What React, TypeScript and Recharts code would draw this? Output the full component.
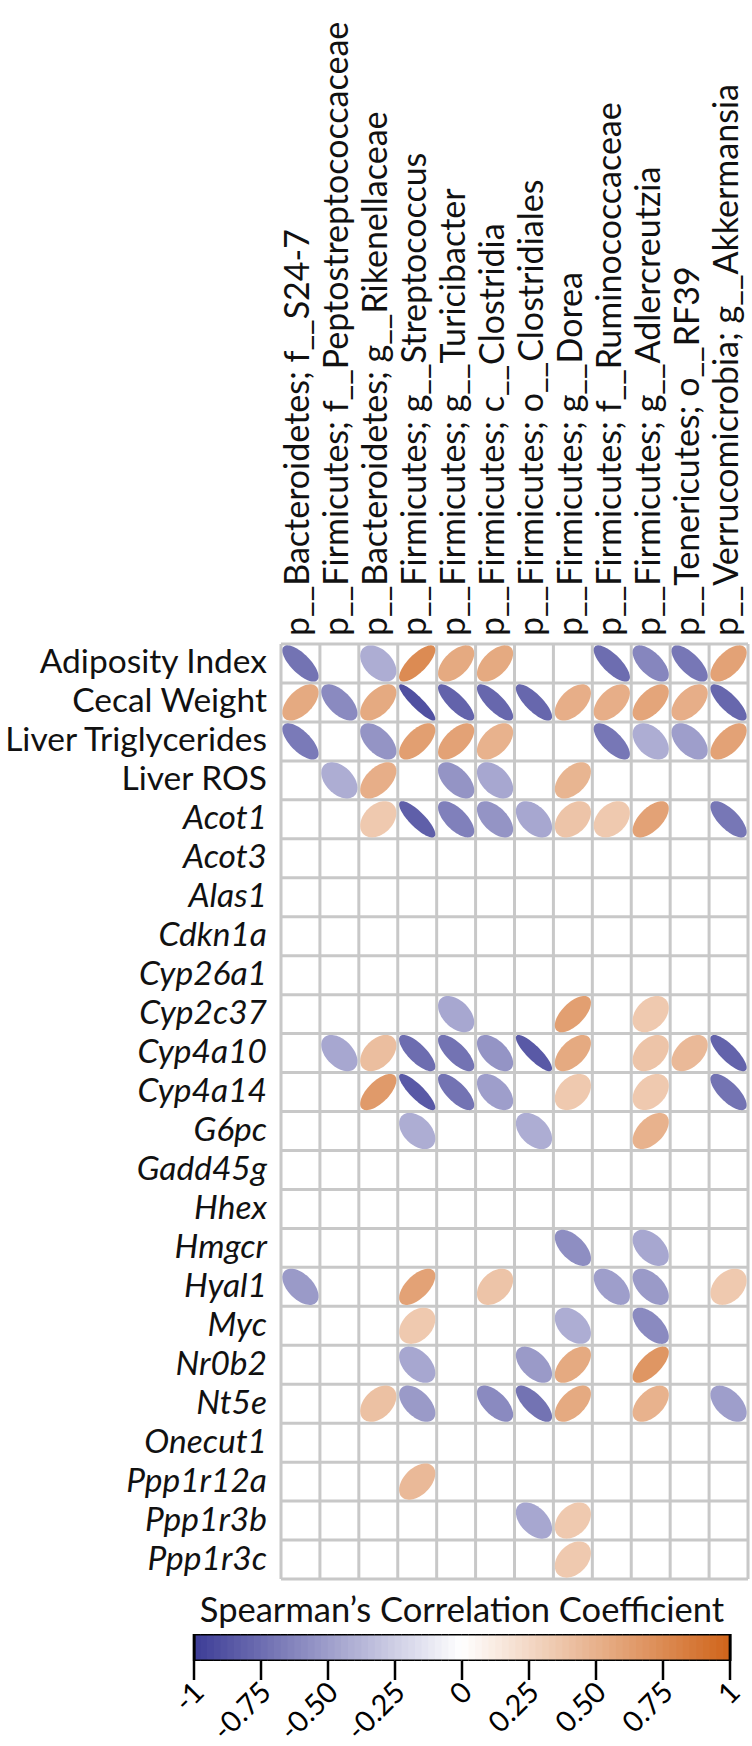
import React from 'react';
import { ScatterChart, Scatter, XAxis, YAxis, CartesianGrid, BarChart, Bar } from 'recharts';

const FONT = 'Lato, "Noto Sans", sans-serif';
const _ = null;

// column labels (taxa)
const taxa = [
  'p__Bacteroidetes; f__S24-7',
  'p__Firmicutes; f__Peptostreptococcaceae',
  'p__Bacteroidetes; g__Rikenellaceae',
  'p__Firmicutes; g__Streptococcus',
  'p__Firmicutes; g__Turicibacter',
  'p__Firmicutes; c__Clostridia',
  'p__Firmicutes; o__Clostridiales',
  'p__Firmicutes; g__Dorea',
  'p__Firmicutes; f__Ruminococcaceae',
  'p__Firmicutes; g__Adlercreutzia',
  'p__Tenericutes; o__RF39',
  'p__Verrucomicrobia; g__Akkermansia',
];

// row labels: phenotypes upright, genes in italics
const phenotypes = ['Adiposity Index', 'Cecal Weight', 'Liver Triglycerides', 'Liver ROS'];
const genes = [
  'Acot1', 'Acot3', 'Alas1', 'Cdkn1a', 'Cyp26a1', 'Cyp2c37', 'Cyp4a10', 'Cyp4a14',
  'G6pc', 'Gadd45g', 'Hhex', 'Hmgcr', 'Hyal1', 'Myc', 'Nr0b2', 'Nt5e',
  'Onecut1', 'Ppp1r12a', 'Ppp1r3b', 'Ppp1r3c',
];
const rowLabels = [...phenotypes, ...genes];

// Spearman rho per row, one value per taxon (null = not shown)
const adiposityIndex = [-0.72, _, -0.42, 0.75, 0.55, 0.55, _, _, -0.75, -0.62, -0.7, 0.6];
const cecalWeight = [0.55, -0.6, 0.55, -0.9, -0.8, -0.78, -0.78, 0.52, 0.52, 0.58, 0.52, -0.78];
const liverTriglycerides = [-0.68, _, -0.55, 0.62, 0.6, 0.5, _, _, -0.7, -0.42, -0.5, 0.6];
const liverROS = [_, -0.42, 0.52, _, -0.55, -0.45, _, 0.48, _, _, _, _];
const acot1 = [_, _, 0.35, -0.82, -0.65, -0.55, -0.45, 0.38, 0.35, 0.6, _, -0.7];
const acot3 = [_, _, _, _, _, _, _, _, _, _, _, _];
const alas1 = [_, _, _, _, _, _, _, _, _, _, _, _];
const cdkn1a = [_, _, _, _, _, _, _, _, _, _, _, _];
const cyp26a1 = [_, _, _, _, _, _, _, _, _, _, _, _];
const cyp2c37 = [_, _, _, _, -0.45, _, _, 0.62, _, 0.35, _, _];
const cyp4a10 = [_, -0.45, 0.42, -0.75, -0.72, -0.55, -0.85, 0.55, _, 0.38, 0.45, -0.8];
const cyp4a14 = [_, _, 0.65, -0.85, -0.72, -0.5, _, 0.35, _, 0.35, _, -0.72];
const g6pc = [_, _, _, -0.42, _, _, -0.42, _, _, 0.5, _, _];
const gadd45g = [_, _, _, _, _, _, _, _, _, _, _, _];
const hhex = [_, _, _, _, _, _, _, _, _, _, _, _];
const hmgcr = [_, _, _, _, _, _, _, -0.58, _, -0.45, _, _];
const hyal1 = [-0.52, _, _, 0.6, _, 0.38, _, _, -0.5, -0.52, _, 0.35];
const myc = [_, _, _, 0.35, _, _, _, -0.42, _, -0.6, _, _];
const nr0b2 = [_, _, _, -0.45, _, _, -0.52, 0.55, _, 0.68, _, _];
const nt5e = [_, _, 0.4, -0.52, _, -0.6, -0.72, 0.55, _, 0.5, _, -0.5];
const onecut1 = [_, _, _, _, _, _, _, _, _, _, _, _];
const ppp1r12a = [_, _, _, 0.45, _, _, _, _, _, _, _, _];
const ppp1r3b = [_, _, _, _, _, _, -0.45, 0.35, _, _, _, _];
const ppp1r3c = [_, _, _, _, _, _, _, 0.35, _, _, _, _];

const rows = [
  adiposityIndex, cecalWeight, liverTriglycerides, liverROS, acot1, acot3, alas1, cdkn1a,
  cyp26a1, cyp2c37, cyp4a10, cyp4a14, g6pc, gadd45g, hhex, hmgcr, hyal1, myc, nr0b2, nt5e,
  onecut1, ppp1r12a, ppp1r3b, ppp1r3c,
];

// colour bar
const legendTitle = 'Spearman’s Correlation Coefficient';
const legendTicks = [-1, -0.75, -0.5, -0.25, 0, 0.25, 0.5, 0.75, 1];
const legendTickLabels = ['-1', '-0.75', '-0.50', '-0.25', '0', '0.25', '0.50', '0.75', '1'];
const legendStep = 0.025;
const legendBands = Array.from({ length: 80 }, (_v, i) => ({ v: -1 + (i + 0.5) * legendStep, h: 1 }));

const cells = rows.flatMap((vals, ri) =>
  vals
    .map((rho, ci) => (rho == null ? null : { col: ci + 0.5, row: ri + 0.5, rho }))
    .filter(Boolean)
);

const colBoundaries = taxa.map((_t, i) => i).concat(taxa.length);
const rowBoundaries = rowLabels.map((_t, i) => i).concat(rowLabels.length);

// layout
const W = 752;
const H = 1600;
const LEFT = 281;
const TOP = 644;
const RIGHT = 4;
const BOTTOM = 21;
const cellW = (W - LEFT - RIGHT) / taxa.length;
const cellH = (H - TOP - BOTTOM) / rowLabels.length;

const BAR_LEFT = 194;
const BAR_RIGHT = 22;
const bandPx = ((W - BAR_LEFT - BAR_RIGHT) * legendStep) / 2;

const NEG = [60, 60, 150];
const POS = [208, 100, 26];
function rhoColor(r: number) {
  const end = r < 0 ? NEG : POS;
  const t = Math.min(1, Math.abs(r));
  const c = end.map((v) => Math.round(255 - t * (255 - v)));
  return `rgb(${c[0]},${c[1]},${c[2]})`;
}

// corrplot-style ellipse
function Ellipse(props: any) {
  const { cx, cy, payload } = props;
  if (cx == null || cy == null) return null;
  const a = Math.acos(payload.rho);
  const w = cellW * 0.93;
  const h = cellH * 0.93;
  const pts: string[] = [];
  for (let i = 0; i < 72; i++) {
    const k = (i / 72) * 2 * Math.PI;
    pts.push(`${(cx + (w * Math.cos(k + a / 2)) / 2).toFixed(2)},${(cy - (h * Math.cos(k - a / 2)) / 2).toFixed(2)}`);
  }
  return <path d={'M' + pts.join('L') + 'Z'} fill={rhoColor(payload.rho)} />;
}

// colour-bar band with its share of the black frame
function Band(props: any) {
  const { x, y, width, height, payload } = props;
  if (x == null || width == null) return null;
  const mid = x + width / 2;
  const l = mid - bandPx / 2;
  const r = mid + bandPx / 2;
  const first = payload.v === legendBands[0].v;
  const last = payload.v === legendBands[legendBands.length - 1].v;
  return (
    <g>
      <rect x={l - 0.4} y={y} width={bandPx + 0.8} height={height} fill={rhoColor(payload.v)} />
      <line x1={l - 0.5} x2={r + 0.5} y1={y} y2={y} stroke="#000" strokeWidth={3} />
      <line x1={l - 0.5} x2={r + 0.5} y1={y + height} y2={y + height} stroke="#000" strokeWidth={3} />
      {first && <line x1={l} x2={l} y1={y - 1.5} y2={y + height + 1.5} stroke="#000" strokeWidth={3} />}
      {last && <line x1={r} x2={r} y1={y - 1.5} y2={y + height + 1.5} stroke="#000" strokeWidth={3} />}
    </g>
  );
}

const TaxonTick = ({ x, y, payload }: any) => {
  const i = Math.round(payload.value - 0.5);
  return (
    <text x={x} y={y} dy={9} transform={`rotate(-90 ${x} ${y})`} textAnchor="start" fontSize={34} fill="#111">
      {taxa[i]}
    </text>
  );
};

const RowTick = ({ x, y, payload }: any) => {
  const i = Math.round(payload.value - 0.5);
  return (
    <text x={x} y={y} dy={10} textAnchor="end" fontSize={33.5} fill="#111"
      fontStyle={i >= phenotypes.length ? 'italic' : 'normal'}>
      {rowLabels[i]}
    </text>
  );
};

const LegendTick = ({ x, y, payload }: any) => {
  const i = legendTicks.indexOf(payload.value);
  const ax = x + 12;
  const ay = y + 12;
  return (
    <text x={ax} y={ay} transform={`rotate(-45 ${ax} ${ay})`} textAnchor="end" fontSize={29} fill="#000">
      {legendTickLabels[i]}
    </text>
  );
};

export default function App() {
  return (
    <div style={{ position: 'absolute', left: 0, top: 0, width: 752, height: 1746, background: '#fff', fontFamily: FONT }}>
      <div style={{ position: 'absolute', left: 0, top: 0 }}>
        <ScatterChart width={W} height={H} margin={{ top: 0, right: RIGHT, bottom: BOTTOM, left: 0 }}>
          <CartesianGrid
            stroke="#c8c8c8"
            strokeWidth={3}
            verticalValues={colBoundaries}
            horizontalValues={rowBoundaries}
          />
          <XAxis
            type="number"
            dataKey="col"
            orientation="top"
            domain={[0, taxa.length]}
            ticks={taxa.map((_t, i) => i + 0.5)}
            interval={0}
            height={TOP}
            tickSize={0}
            tickMargin={8}
            axisLine={false}
            tickLine={false}
            tick={<TaxonTick />}
          />
          <YAxis
            type="number"
            dataKey="row"
            reversed
            domain={[0, rowLabels.length]}
            ticks={rowLabels.map((_t, i) => i + 0.5)}
            interval={0}
            width={LEFT}
            tickSize={0}
            tickMargin={14}
            axisLine={false}
            tickLine={false}
            tick={<RowTick />}
          />
          <Scatter data={cells} shape={<Ellipse />} isAnimationActive={false} />
        </ScatterChart>
      </div>
      <div
        style={{
          position: 'absolute', left: BAR_LEFT - 20, top: 1588, width: W - BAR_LEFT - BAR_RIGHT + 40,
          textAlign: 'center', fontSize: 34.5, lineHeight: 1.2, color: '#111', whiteSpace: 'nowrap',
        }}
      >
        {legendTitle}
      </div>
      <div style={{ position: 'absolute', left: 0, top: 1580 }}>
        <BarChart
          width={W}
          height={166}
          data={legendBands}
          barCategoryGap={0}
          margin={{ top: 54, right: BAR_RIGHT, bottom: 0, left: BAR_LEFT }}
        >
          <YAxis type="number" domain={[0, 1]} allowDataOverflow width={0} tick={false} axisLine={false} tickLine={false} />
          <XAxis
            type="number"
            dataKey="v"
            domain={[-1, 1]}
            ticks={legendTicks}
            interval={0}
            height={85}
            tickSize={19}
            tickMargin={2}
            axisLine={false}
            tickLine={{ stroke: '#000', strokeWidth: 2.5 }}
            tick={<LegendTick />}
          />
          <Bar dataKey="h" shape={<Band />} isAnimationActive={false} />
        </BarChart>
      </div>
    </div>
  );
}
